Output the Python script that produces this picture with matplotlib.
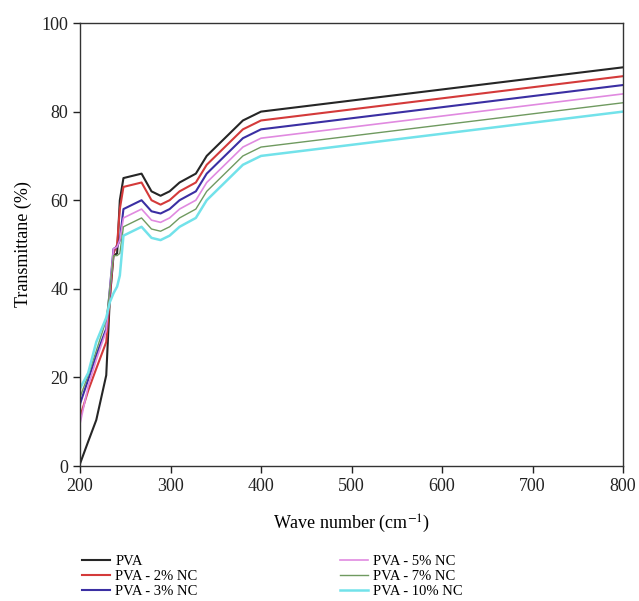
import numpy as np
import matplotlib
matplotlib.use('Agg')
import matplotlib.pyplot as plt

plt.rcParams['font.family'] = ['Liberation Serif', 'DejaVu Serif']
plt.rcParams['mathtext.fontset'] = 'stix'

# wave number grid
wave = [200, 209, 218, 229, 233, 237, 241, 244, 248, 268, 279, 289, 299, 310, 328, 340, 380, 400, 800]

pva    = [0.5, 5.5, 10.4, 20.5, 38, 47.5, 48, 60, 65, 66, 62, 61, 62, 64, 66, 70, 78, 80, 90]
nc2    = [11, 17, 22, 28, 38, 48, 50, 58, 63, 64, 60, 59, 60, 62, 64, 68, 76, 78, 88]
nc3    = [14, 19.5, 25, 31, 40, 49, 49.5, 51, 58, 60, 57.5, 57, 58, 60, 62, 66, 74, 76, 86]
nc5    = [9.5, 18, 24, 30.5, 40, 49, 49.5, 51, 56, 58, 55.5, 55, 56, 58, 60, 64, 72, 74, 84]
nc7    = [15.5, 20.5, 26, 33, 40, 47.5, 47.5, 48, 54, 56, 53.5, 53, 54, 56, 58, 62, 70, 72, 82]
nc10   = [17.5, 21, 28, 33.5, 37, 39, 40.5, 43, 52, 54, 51.5, 51, 52, 54, 56, 60, 68, 70, 80]

series = [pva, nc2, nc3, nc5, nc7, nc10]
labels = ['PVA', 'PVA - 2% NC', 'PVA - 3% NC', 'PVA - 5% NC', 'PVA - 7% NC', 'PVA - 10% NC']
colors = ['#262626', '#d43a3a', '#3b2fa3', '#e08ae0', '#6f9a60', '#72e2ea']
widths = [1.5, 1.5, 1.5, 1.2, 1.0, 1.8]

fig = plt.figure(figsize=(6.39, 6.01), dpi=100)
ax = fig.add_axes([0.1252, 0.2246, 0.8498, 0.7371])

handles = []
for y, lab, c, w in zip(series, labels, colors, widths):
    h, = ax.plot(wave, y, color=c, linewidth=w, label=lab)
    handles.append(h)

ax.set_xlim(200, 800)
ax.set_ylim(0, 100)
ax.set_xticks(np.arange(200, 801, 100))
ax.set_yticks(np.arange(0, 101, 20))
ax.tick_params(direction='out', length=5, width=1, labelsize=13, colors='#222222')
for s in ax.spines.values():
    s.set_linewidth(1)
    s.set_color('#333333')
ax.set_xlabel(r'Wave number (cm$^{-1}$)', fontsize=13, labelpad=13)
ax.set_ylabel('Transmittane (%)', fontsize=13, labelpad=7)

leg_kw = dict(loc='upper left', frameon=False, fontsize=10.5, handlelength=1.9,
              handletextpad=0.4, labelspacing=0.14, borderaxespad=0, borderpad=0)
fig.legend(handles[:3], labels[:3], bbox_to_anchor=(0.128, 0.077), **leg_kw)
fig.legend(handles[3:], labels[3:], bbox_to_anchor=(0.532, 0.077), **leg_kw)

fig.savefig('out.png', dpi=100)
